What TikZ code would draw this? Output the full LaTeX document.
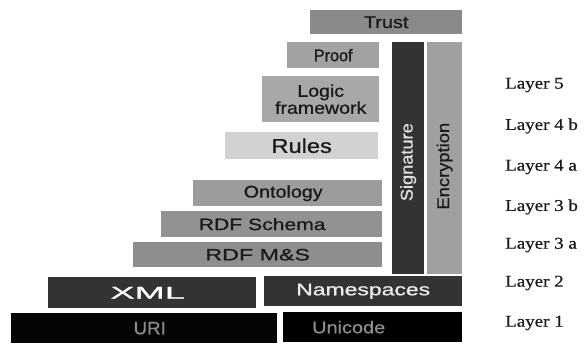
\documentclass[tikz,border=0pt]{standalone}
\usepackage{fontspec}
\usepackage{graphicx}
\setmainfont{Liberation Sans}[BoldFont=Liberation Sans, BoldFeatures={FakeBold=0.8}]
\newfontfamily\lserif{Liberation Serif}[BoldFont=Liberation Serif, BoldFeatures={FakeBold=0.6}]
\newcommand{\stretchtxt}[2]{\scalebox{#1}[1]{#2}}
\definecolor{cTrust}{HTML}{8A8A8A}
\definecolor{cProof}{HTML}{A2A2A2}
\definecolor{cLogic}{HTML}{A8A8A8}
\definecolor{cRules}{HTML}{D2D2D2}
\definecolor{cOnto}{HTML}{9C9C9C}
\definecolor{cSchema}{HTML}{929292}
\definecolor{cMS}{HTML}{8E8E8E}
\definecolor{cDark}{HTML}{333333}
\definecolor{cEnc}{HTML}{A0A0A0}
\definecolor{cBlack}{HTML}{050505}
\definecolor{cGreyTxt}{HTML}{8C8C8C}
\definecolor{cTxt}{HTML}{1A1A1A}
\begin{document}
\begin{tikzpicture}[x=1pt,y=-1pt,
  blk/.style={rectangle, inner sep=0pt, anchor=north west, draw=none, align=center, text=cTxt},
  fs/.style={font=\bfseries\fontsize{#1}{#1}\selectfont},
  lay/.style={anchor=west, inner sep=0pt, text=cTxt, font=\lserif\bfseries\fontsize{16.5}{16.5}\selectfont}]
\fill[white] (0,0) rectangle (584,343);
\useasboundingbox (0,0) rectangle (584,343);
% top stack
\node[blk, fill=cTrust, minimum width=152pt, minimum height=24pt, fs=17] (trust) at (310,10) {\stretchtxt{1.17}{Trust}};
\node[blk, fill=cProof, minimum width=92pt, minimum height=26pt, fs=17] (proof) at (287,42) {\stretchtxt{0.95}{Proof}};
\node[blk, fill=cLogic, minimum width=117pt, minimum height=46pt, font=\bfseries\fontsize{17}{17}\selectfont] (logic) at (262,76) {\stretchtxt{1.15}{Logic}\\\stretchtxt{1.15}{framework}};
\node[blk, fill=cRules, minimum width=153pt, minimum height=27pt, fs=20] (rules) at (225,132) {\stretchtxt{1.18}{Rules}};
% vertical bars
\node[blk, fill=cDark, text=white!88!black, minimum width=32pt, minimum height=232pt, fs=17] (sig) at (392,42) {\rotatebox{90}{\stretchtxt{1.07}{Signature}\hspace*{8pt}}};
\node[blk, fill=cEnc, minimum width=35pt, minimum height=232pt, fs=17] (enc) at (427,42) {\rotatebox{90}{\stretchtxt{1.08}{Encryption}\hspace*{16pt}}};
% RDF stack
\node[blk, fill=cOnto, minimum width=189pt, minimum height=26pt, fs=17] (onto) at (193,180) {\stretchtxt{1.16}{Ontology}\hspace*{9pt}};
\node[blk, fill=cSchema, minimum width=221pt, minimum height=26pt, fs=16.5] (schema) at (161,211) {\stretchtxt{1.28}{RDF Schema}\hspace*{19pt}};
\node[blk, fill=cMS, minimum width=249pt, minimum height=25pt, fs=16.5] (ms) at (133,242) {\stretchtxt{1.41}{RDF M\&S}};
% XML layer
\node[blk, fill=cDark, text=white, minimum width=208pt, minimum height=31pt, fs=17] (xml) at (48,277) {\stretchtxt{2.13}{XML}\hspace*{9pt}};
\node[blk, fill=cDark, text=white!92!black, minimum width=198pt, minimum height=30pt, fs=17] (ns) at (264,276) {\stretchtxt{1.35}{Namespaces}};
% bottom
\node[blk, fill=cBlack, text=cGreyTxt, minimum width=266pt, minimum height=30pt, fs=18] (uri) at (11,313) {\hspace*{11pt}\stretchtxt{1.04}{URI}};
\node[blk, fill=black, text=cGreyTxt, minimum width=179pt, minimum height=30pt, fs=17] (uni) at (283,312) {\stretchtxt{1.17}{Unicode}\hspace*{48pt}};
% layer labels
\node[lay] (l5) at (505,85) {\stretchtxt{1.15}{Layer 5}};
\node[lay] (l4b) at (505,126) {\stretchtxt{1.15}{Layer 4 b}};
\node[lay] (l4a) at (505,167) {\stretchtxt{1.15}{Layer 4 a}};
\node[lay] (l3b) at (505,207) {\stretchtxt{1.15}{Layer 3 b}};
\node[lay] (l3a) at (505,245) {\stretchtxt{1.15}{Layer 3 a}};
\node[lay] (l2) at (505,283) {\stretchtxt{1.15}{Layer 2}};
\node[lay] (l1) at (505,323) {\stretchtxt{1.15}{Layer 1}};
\end{tikzpicture}
\end{document}
